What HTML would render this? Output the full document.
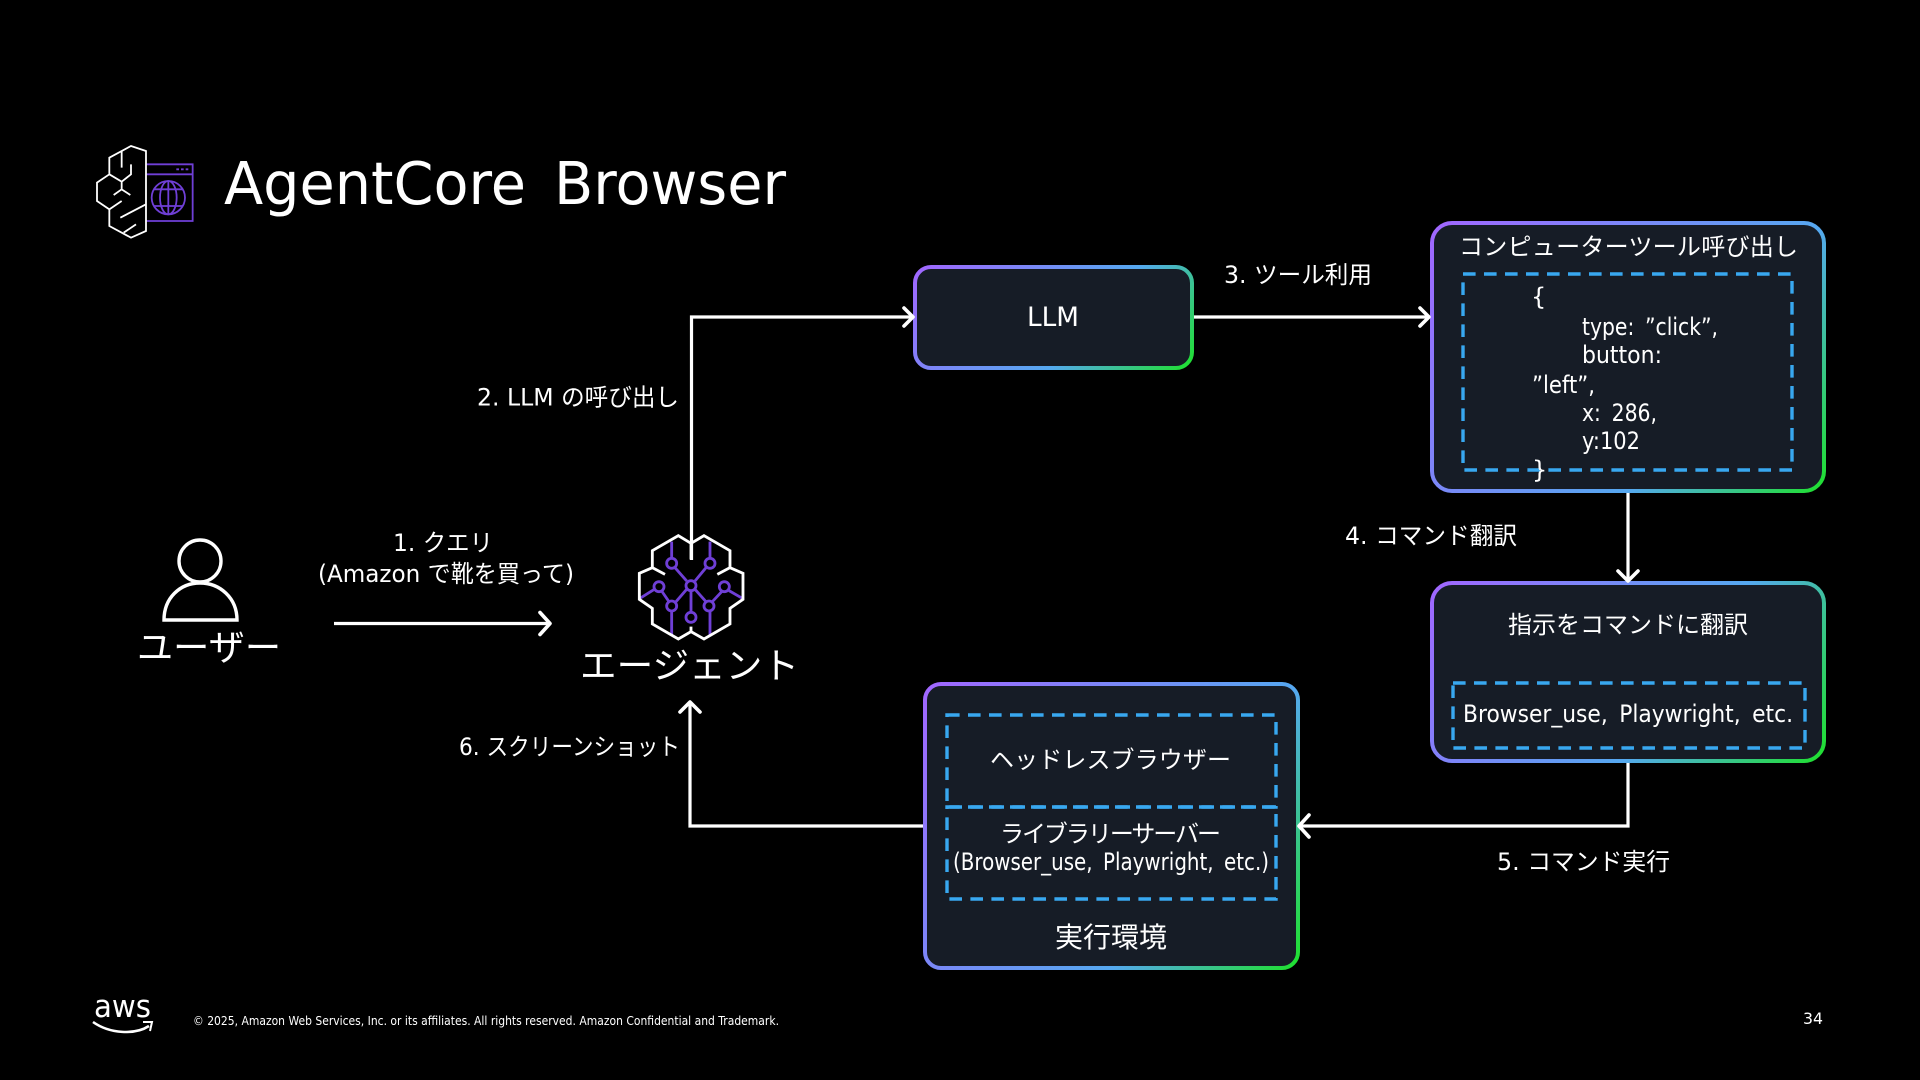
<!DOCTYPE html>
<html lang="ja">
<head>
<meta charset="utf-8">
<title>AgentCore Browser</title>
<style>
html,body{margin:0;padding:0;background:#000;width:1920px;height:1080px;overflow:hidden}
svg{display:block}
text{fill:#fff;font-family:"DejaVu Sans","Noto Sans CJK JP",sans-serif;font-size:24px}
.l{fill:none;stroke:#fff;stroke-width:3.2;stroke-linejoin:miter}
.h{fill:none;stroke:#fff;stroke-width:3.6;stroke-linecap:round;stroke-linejoin:round}
.d{fill:none;stroke:#38a8f0;stroke-width:3.4;stroke-dasharray:12.6 8.4}
.w{fill:none;stroke:#fff}
.p{fill:none;stroke:#6f3fd6}
.s{word-spacing:5px}
</style>
</head>
<body>
<svg width="1920" height="1080" viewBox="0 0 1920 1080" xmlns="http://www.w3.org/2000/svg">
<defs>
<linearGradient id="g1" x1="0" y1="0" x2="1.6" y2="0.8"><stop offset="0" stop-color="#a166ff"/><stop offset=".5" stop-color="#55a8f0"/><stop offset=".75" stop-color="#1fe02e"/></linearGradient>
<linearGradient id="g2" x1="0" y1="0" x2="1.46" y2="0.47"><stop offset="0" stop-color="#a166ff"/><stop offset=".5" stop-color="#55a8f0"/><stop offset=".82" stop-color="#1fe02e"/></linearGradient>
</defs>
<rect width="1920" height="1080" fill="#000"/>

<!-- title icon -->
<g transform="translate(91,141) scale(.3333)" stroke-width="5.4">
<path class="p" d="M165 70H305V240H165M165 100H305M256 85H264M270 85H278M284 85H292"/>
<circle class="p" cx="232" cy="170" r="50"/><ellipse class="p" cx="232" cy="170" rx="25" ry="50"/>
<path class="p" d="M232 120V220M188 145H276M188 195H276"/>
<path class="w" d="M165 30L120 15L55 50V100L18 125V180L55 205V255L120 290L165 270Z"/>
<path class="w" d="M92 30V80M120 70V100L92 122L55 100M92 122V145L68 162M92 145L118 162M55 205L92 180M88 230L165 190M98 275L135 250"/>
</g>
<text x="224" y="204" style="font-size:59px;word-spacing:10px" textLength="562" lengthAdjust="spacingAndGlyphs">AgentCore Browser</text>

<!-- connector lines -->
<path class="l" d="M691.5 560V317H913"/>
<path class="l" d="M1194 317H1428"/>
<path class="l" d="M1628 492V580"/>
<path class="l" d="M1628 762V826H1300"/>
<path class="l" d="M923 826H690V703"/>
<path class="l" d="M334 623.5H550"/>

<!-- boxes -->
<rect x="915" y="267" width="277" height="101" rx="16" fill="#161c26" stroke="url(#g2)" stroke-width="4"/>
<rect x="1432" y="223" width="392" height="268" rx="20" fill="#161c26" stroke="url(#g1)" stroke-width="4"/>
<rect x="1432" y="583" width="392" height="178" rx="20" fill="#161c26" stroke="url(#g2)" stroke-width="4"/>
<rect x="925" y="684" width="373" height="284" rx="16" fill="#161c26" stroke="url(#g1)" stroke-width="4"/>

<!-- dashed -->
<rect class="d" x="1463" y="274" width="329" height="196"/>
<rect class="d" x="1453" y="683" width="352" height="65"/>
<rect class="d" x="947" y="715" width="329" height="92"/>
<rect class="d" x="947" y="807" width="329" height="92"/>

<!-- arrowheads -->
<path class="h" d="M904 308L913 317L904 326"/>
<path class="h" d="M1420 308L1429 317L1420 326"/>
<path class="h" d="M1618 571L1628 581L1638 571"/>
<path class="h" d="M1309 815L1299 826L1309 837"/>
<path class="h" d="M680 712L690 702L700 712"/>
<path class="h" d="M540 612.5L550 623.5L540 634.5"/>

<!-- user icon -->
<g fill="none" stroke="#fff" stroke-width="3.4">
<circle cx="200" cy="561" r="21"/>
<path d="M164 620C164 598 180 583 200 583C220 583 237 598 237 620Z"/>
</g>
<text x="137" y="660" style="font-size:36px" textLength="144" lengthAdjust="spacingAndGlyphs">ユーザー</text>

<!-- agent icon -->
<g transform="translate(620,520) scale(.3333)" stroke-width="8.5">
<path class="p" d="M155 65V115M165 143L200 183M270 65V115M258 143L225 183M213 212V277M200 208L168 245M225 208L258 245M155 273V345M270 273V345M60 235L103 208M125 213L147 245M327 212L367 235M305 215L277 245"/>
<circle class="p" cx="155" cy="130" r="15"/><circle class="p" cx="270" cy="130" r="15"/><circle class="p" cx="213" cy="197" r="15"/><circle class="p" cx="213" cy="292" r="15"/><circle class="p" cx="155" cy="258" r="15"/><circle class="p" cx="267" cy="258" r="15"/><circle class="p" cx="117" cy="200" r="15"/><circle class="p" cx="313" cy="200" r="15"/>
<path class="w" d="M213 70L175 47L97 92V143L58 160V238L97 265V312L175 357L213 335L252 357L330 312V265L369 238V160L330 143V92L252 47Z"/>
<path class="w" d="M213 70V118M97 143L135 163M330 143L292 163M213 335V320"/>
</g>
<text x="580" y="678" style="font-size:36px" textLength="219" lengthAdjust="spacingAndGlyphs">エージェント</text>

<!-- connector labels -->
<text x="393" y="551" textLength="100" lengthAdjust="spacingAndGlyphs">1. クエリ</text>
<text x="318" y="582" textLength="256" lengthAdjust="spacingAndGlyphs">(Amazon で靴を買って)</text>
<text x="477" y="405.5" textLength="202" lengthAdjust="spacingAndGlyphs">2. LLM の呼び出し</text>
<text x="1224" y="283" textLength="148" lengthAdjust="spacingAndGlyphs">3. ツール利用</text>
<text x="1345" y="544" textLength="172" lengthAdjust="spacingAndGlyphs">4. コマンド翻訳</text>
<text x="1497" y="870" textLength="173" lengthAdjust="spacingAndGlyphs">5. コマンド実行</text>
<text x="459" y="755" textLength="221" lengthAdjust="spacingAndGlyphs">6. スクリーンショット</text>

<!-- box text -->
<text x="1027" y="326" style="font-size:27px" textLength="52" lengthAdjust="spacingAndGlyphs">LLM</text>
<text x="1459" y="255" textLength="339">コンピューターツール呼び出し</text>
<text x="1531" y="305">{</text>
<text class="s" x="1582" y="335" textLength="136" lengthAdjust="spacingAndGlyphs">type: ”click”,</text>
<text x="1582" y="363" textLength="80" lengthAdjust="spacingAndGlyphs">button:</text>
<text x="1532" y="393" textLength="63" lengthAdjust="spacingAndGlyphs">”left”,</text>
<text class="s" x="1582" y="421" textLength="75" lengthAdjust="spacingAndGlyphs">x: 286,</text>
<text x="1582" y="449" textLength="58" lengthAdjust="spacingAndGlyphs">y:102</text>
<text x="1532" y="478">}</text>
<text x="1508" y="633" textLength="240">指示をコマンドに翻訳</text>
<text class="s" x="1463" y="722" textLength="330" lengthAdjust="spacingAndGlyphs">Browser_use, Playwright, etc.</text>
<text x="990" y="768" textLength="241">ヘッドレスブラウザー</text>
<text x="1000" y="842" textLength="221">ライブラリーサーバー</text>
<text class="s" x="953" y="870" textLength="316" lengthAdjust="spacingAndGlyphs">(Browser_use, Playwright, etc.)</text>
<text x="1055" y="947" style="font-size:28px" textLength="112">実行環境</text>

<!-- footer -->
<text x="94" y="1017" style="font-size:31px" textLength="57" lengthAdjust="spacingAndGlyphs">aws</text>
<path d="M93 1022C110 1034 135 1035 149 1026" fill="none" stroke="#fff" stroke-width="2.6"/>
<path d="M143 1022L152 1022L150 1031" fill="none" stroke="#fff" stroke-width="2"/>
<text x="193" y="1025" style="font-size:12px" textLength="586" lengthAdjust="spacingAndGlyphs">© 2025, Amazon Web Services, Inc. or its affiliates. All rights reserved. Amazon Confidential and Trademark.</text>
<text x="1803" y="1024" style="font-size:16px" textLength="20" lengthAdjust="spacingAndGlyphs">34</text>
</svg>
</body>
</html>
